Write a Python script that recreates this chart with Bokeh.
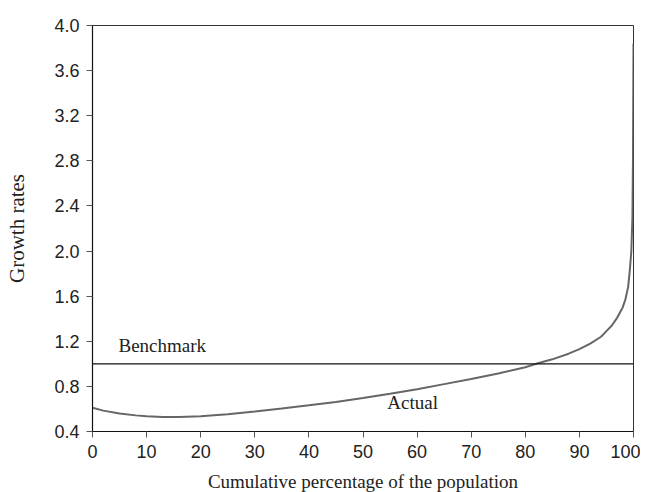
from bokeh.plotting import figure
from bokeh.models import FixedTicker, PrintfTickFormatter, Label, Span, Range1d
from bokeh.embed import file_html
from bokeh.resources import INLINE

# Data
population_pct = [0, 2, 5, 8, 10, 13, 16, 20, 25, 30, 35, 40, 45, 50, 55, 60, 65, 70,
                  75, 80, 82, 85, 88, 90, 92, 94, 95, 96, 97, 98, 98.5, 99, 99.3,
                  99.6, 99.8, 99.9, 100]
growth_actual = [0.61, 0.585, 0.56, 0.543, 0.535, 0.529, 0.528, 0.535, 0.553, 0.577,
                 0.603, 0.632, 0.662, 0.697, 0.735, 0.775, 0.82, 0.865, 0.915, 0.97,
                 1.0, 1.04, 1.09, 1.13, 1.18, 1.24, 1.29, 1.34, 1.41, 1.5, 1.57, 1.68,
                 1.82, 2.0, 2.3, 2.8, 3.84]
benchmark = 1.0
x_ticks = [0, 10, 20, 30, 40, 50, 60, 70, 80, 90, 100]
y_ticks = [0.4, 0.8, 1.2, 1.6, 2.0, 2.4, 2.8, 3.2, 3.6, 4.0]

p = figure(frame_width=541, frame_height=406, output_backend="svg", toolbar_location=None,
           x_range=Range1d(0, 100), y_range=Range1d(0.4, 4.0),
           min_border_left=92, min_border_top=25, min_border_right=7, min_border_bottom=60)

p.line(population_pct, growth_actual, line_color="#666666", line_width=2)
p.add_layout(Span(location=benchmark, dimension="width", line_color="#111111", line_width=1.2))

p.add_layout(Label(x=4.8, y=1.07, text="Benchmark", text_font="Liberation Serif",
                   text_font_size="19px", text_color="#222222"))
p.add_layout(Label(x=54.5, y=0.56, text="Actual", text_font="Liberation Serif",
                   text_font_size="19px", text_color="#222222"))

p.xgrid.visible = False
p.ygrid.visible = False
p.outline_line_color = "#333333"
p.outline_line_width = 1
p.background_fill_color = "white"
p.border_fill_color = "white"

for ax in (p.xaxis[0], p.yaxis[0]):
    ax.axis_line_color = "#111111"
    ax.axis_line_width = 1.2
    ax.major_tick_line_color = "#555555"
    ax.major_tick_out = 6
    ax.major_tick_in = 0
    ax.minor_tick_line_color = None
    ax.major_label_text_font = "Liberation Sans"
    ax.major_label_text_font_size = "18px"
    ax.major_label_text_color = "#222222"
    ax.axis_label_text_font = "Liberation Serif"
    ax.axis_label_text_font_style = "normal"
    ax.axis_label_text_color = "#222222"

p.xaxis.axis_label_text_font_size = "19px"
p.yaxis.axis_label_text_font_size = "21px"
p.xaxis.ticker = FixedTicker(ticks=x_ticks)
p.yaxis.ticker = FixedTicker(ticks=y_ticks)
p.yaxis.formatter = PrintfTickFormatter(format="%.1f")
p.xaxis.axis_label = "Cumulative percentage of the population"
p.yaxis.axis_label = "Growth rates"
p.xaxis.major_label_standoff = 7
p.yaxis.major_label_standoff = 7
p.xaxis.axis_label_standoff = 10
p.yaxis.axis_label_standoff = 22

open("out.html", "w").write(file_html(p, INLINE))
